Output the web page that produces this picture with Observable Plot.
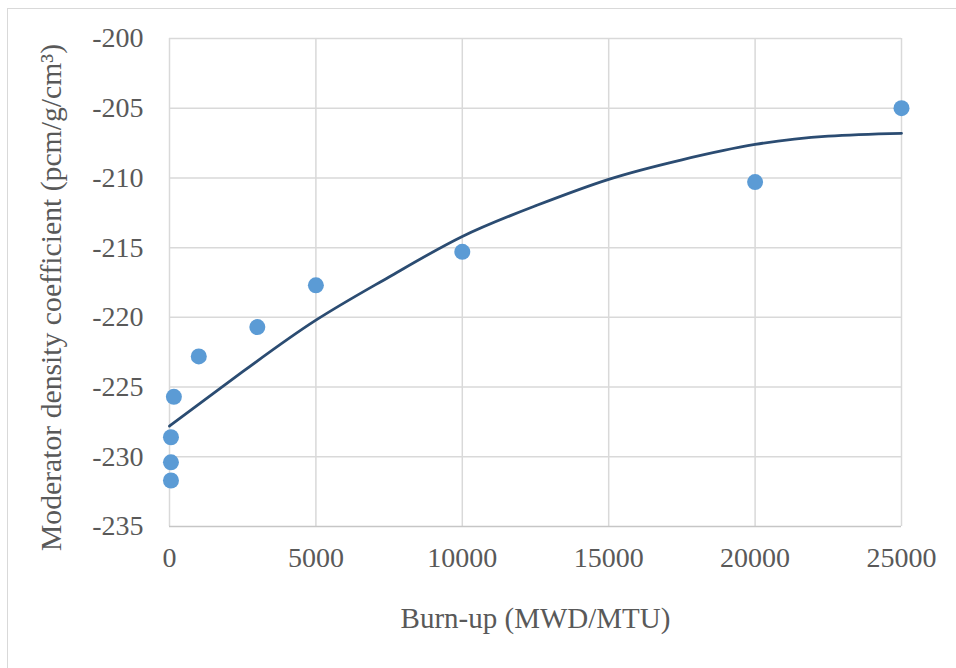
<!DOCTYPE html>
<html>
<head>
<meta charset="utf-8">
<script src="https://cdn.jsdelivr.net/npm/d3@7"></script>
<script src="https://cdn.jsdelivr.net/npm/@observablehq/plot@0.6"></script>
<style>
  html, body { margin: 0; padding: 0; background: #fff; overflow: hidden; }
  #wrap { position: relative; width: 956px; height: 668px; overflow: hidden; }
  #border { position: absolute; left: 7px; top: 8px; width: 1200px; height: 1200px; border: 1px solid #d9d9d9; }
  #chart { position: absolute; left: 0; top: 0; }
</style>
</head>
<body>
<div id="wrap"><div id="border"></div><div id="chart"></div></div>
<script>
// Measured points
const burnup = [50, 50, 50, 150, 1000, 3000, 5000, 10000, 20000, 25000];
const coefficient = [-231.7, -230.4, -228.6, -225.7, -222.8, -220.7, -217.7, -215.3, -210.3, -205.0];

// Trend line
const trendX = [0, 2500, 5000, 7500, 10000, 12500, 15000, 17500, 20000, 22500, 25000];
const trendY = [-227.8, -223.9, -220.2, -217.1, -214.2, -212.0, -210.1, -208.7, -207.6, -207.0, -206.8];

// Ticks & labels
const xTicks = [0, 5000, 10000, 15000, 20000, 25000];
const yTicks = [-235, -230, -225, -220, -215, -210, -205, -200];
const xTitle = "Burn-up (MWD/MTU)";
const yTitle = "Moderator density coefficient (pcm/g/cm³)";

const points = burnup.map((b, i) => ({x: b, y: coefficient[i]}));
const trend = trendX.map((b, i) => ({x: b, y: trendY[i]}));

const chart = Plot.plot({
  width: 956,
  height: 668,
  marginLeft: 169,
  marginRight: 55,
  marginTop: 38,
  marginBottom: 142,
  style: {fontFamily: "'Liberation Serif', 'Times New Roman', serif", fontSize: "28px", color: "#595959", background: "transparent"},
  x: {domain: [0, 25000], ticks: xTicks, tickFormat: d => String(d), tickSize: 0, tickPadding: 21, label: null},
  y: {domain: [-235, -200], ticks: yTicks, tickFormat: d => String(d), tickSize: 0, tickPadding: 26, label: null},
  marks: [
    Plot.ruleX(xTicks, {stroke: "#d9d9d9", strokeWidth: 1.5}),
    Plot.ruleY(yTicks.filter(d => d !== -235), {stroke: "#d9d9d9", strokeWidth: 1.5}),
    Plot.ruleY([-235], {stroke: "#c6c6c6", strokeWidth: 1.5}),
    Plot.dot(points, {x: "x", y: "y", r: 8, fill: "#5b9bd5", stroke: "none"}),
    Plot.line(trend, {x: "x", y: "y", curve: "natural", stroke: "#2b4c72", strokeWidth: 2.8}),
    Plot.text([xTitle], {frameAnchor: "bottom", dy: 92, fontSize: 29, fill: "#595959", textAnchor: "middle", lineAnchor: "middle"}),
    Plot.text([yTitle], {frameAnchor: "left", dx: -118, dy: 15, rotate: -90, fontSize: 29.7, fill: "#595959", textAnchor: "middle", lineAnchor: "middle"})
  ]
});
document.getElementById("chart").appendChild(chart);
</script>
</body>
</html>
